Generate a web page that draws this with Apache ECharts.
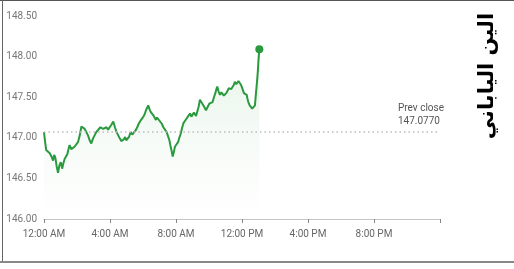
<!DOCTYPE html>
<html>
<head>
<meta charset="utf-8">
<script src="https://cdn.jsdelivr.net/npm/echarts@6/dist/echarts.min.js"></script>
<style>
html,body{margin:0;padding:0;background:#fff;}
#c{width:514px;height:269px;}
</style>
</head>
<body>
<div id="c"></div>
<script>
// minutes after midnight
var times = [0,4,8,14,21,27,33,37,41,46,51,56,61,66,70,75,80,85,89,93,99,105,111,118,124,130,136,142,148,154,160,166,172,178,184,190,196,205,215,221,227,233,239,245,252,258,264,270,276,281,286,290,295,299,303,309,315,321,327,333,339,344,349,355,361,366,371,375,379,384,388,392,397,402,407,411,416,420,424,429,434,440,446,451,456,460,464,468,472,476,482,488,492,497,502,507,513,519,525,531,536,541,545,549,553,557,562,567,572,577,583,589,595,601,607,613,618,623,627,630,635,640,645,650,654,658,663,667,672,676,681,686,690,694,699,703,707,710,715,719,723,727,732,737,740,743,748,752,757,761,764,767,770,773,776,778,780,783];
var prices = [147.07,146.95,146.85,146.86,146.81,146.77,146.72,146.79,146.76,146.65,146.57,146.66,146.70,146.62,146.68,146.74,146.72,146.80,146.86,146.91,146.86,146.84,146.89,146.87,146.95,147.03,147.14,147.12,147.11,147.07,147.03,146.97,146.93,146.99,147.03,147.07,147.09,147.13,147.11,147.09,147.13,147.10,147.11,147.16,147.20,147.13,147.07,147.03,146.99,146.96,146.95,146.98,147.01,146.97,146.95,147.01,147.07,147.04,147.03,147.09,147.13,147.17,147.20,147.23,147.26,147.29,147.34,147.37,147.40,147.35,147.32,147.30,147.28,147.25,147.22,147.25,147.24,147.21,147.20,147.17,147.13,147.10,147.07,147.02,146.97,146.90,146.84,146.77,146.82,146.89,146.92,146.95,147.00,147.05,147.12,147.18,147.21,147.24,147.27,147.30,147.26,147.28,147.31,147.32,147.27,147.28,147.38,147.47,147.44,147.42,147.38,147.34,147.38,147.42,147.40,147.44,147.50,147.55,147.60,147.63,147.57,147.53,147.56,147.55,147.52,147.51,147.55,147.57,147.61,147.63,147.60,147.61,147.65,147.69,147.66,147.67,147.70,147.69,147.66,147.63,147.59,147.55,147.56,147.53,147.48,147.44,147.40,147.38,147.36,147.35,147.36,147.40,147.52,147.63,147.75,147.84,147.96,148.09];
var xTickLabels = ['12:00 AM','4:00 AM','8:00 AM','12:00 PM','4:00 PM','8:00 PM'];
var prevClose = 147.0770;
var title = 'الين الياباني';

var font = "Roboto,sans-serif";
var n = Math.min(times.length, prices.length);
var data = [];
for (var i = 0; i < n; i++) data.push([times[i], prices[i]]);
var lastIdx = data.length - 1;

var chart = echarts.init(document.getElementById('c'), null, {renderer:'canvas'});
chart.setOption({
  animation:false,
  backgroundColor:'#fff',
  grid:{left:44, right:74, top:16, bottom:50, containLabel:false},
  xAxis:{
    type:'value', min:0, max:1440, interval:240,
    axisLine:{show:true, lineStyle:{color:'#c4c4c4', width:1}},
    axisTick:{show:true, length:4, inside:false, lineStyle:{color:'#888'}},
    splitLine:{show:false},
    axisLabel:{
      color:'#666', fontFamily:font, fontSize:10, margin:10,
      formatter:function(v){var i=Math.round(v/240); return i<xTickLabels.length?xTickLabels[i]:'';}
    }
  },
  yAxis:{
    type:'value', min:146, max:148.5, interval:0.5,
    axisLine:{show:false}, axisTick:{show:false}, splitLine:{show:false},
    axisLabel:{color:'#777', fontFamily:font, fontSize:10, margin:7,
      formatter:function(v){return v.toFixed(2);}}
  },
  series:[{
    type:'line',
    data:data,
    showSymbol:false,
    symbol:'circle',
    lineStyle:{color:'#2a9a3f', width:2},
    itemStyle:{color:'#2a9a3f'},
    areaStyle:{
      origin:'start',
      color:new echarts.graphic.LinearGradient(0,0,0,1,[
        {offset:0, color:'rgba(46,158,69,0.16)'},
        {offset:0.6, color:'rgba(46,158,69,0.05)'},
        {offset:1, color:'rgba(46,158,69,0)'}
      ])
    },
    markPoint:{
      symbol:'circle', symbolSize:8,
      itemStyle:{color:'#2a9a3f'},
      label:{show:false},
      data:[{coord:data[lastIdx]}]
    },
    markLine:{
      silent:true, symbol:['none','none'],
      lineStyle:{color:'#bdbdbd', type:[1.5,3], width:1.5},
      label:{
        show:true, position:'insideEndTop', color:'#555', fontFamily:font, fontSize:10,
        lineHeight:13, align:'left', distance:[42,3],
        formatter:function(){return 'Prev close\n' + prevClose.toFixed(4);}
      },
      data:[{yAxis:prevClose}]
    }
  }],
  graphic:[
    {type:'rect', shape:{x:0,y:0,width:514,height:1}, style:{fill:'#555'}, silent:true},
    {type:'rect', shape:{x:2,y:0,width:1,height:262}, style:{fill:'#666'}, silent:true},
    {type:'rect', shape:{x:0,y:261,width:514,height:2}, style:{fill:'#888'}, silent:true},
    {type:'text', x:488, y:76, rotation:Math.PI/2,
      style:{text:title, fill:'#000', font:"bold 21px 'DejaVu Sans', sans-serif", align:'center', verticalAlign:'middle'}, silent:true}
  ]
});
</script>
</body>
</html>
